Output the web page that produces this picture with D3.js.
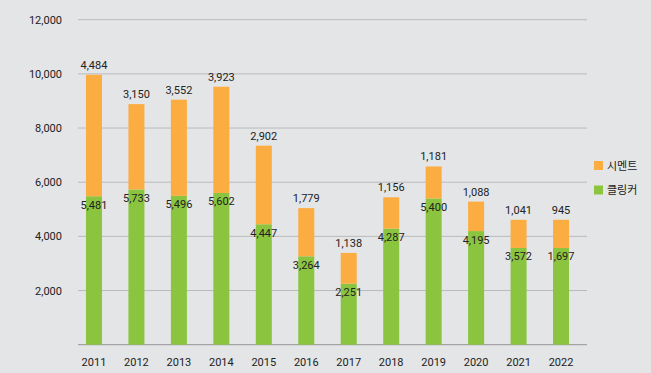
<!DOCTYPE html>
<html>
<head>
<meta charset="utf-8">
<script src="https://cdn.jsdelivr.net/npm/d3@7"></script>
<style>
  body { margin: 0; background: #e4e5e7; }
  svg { display: block; font-family: Roboto, "Noto Sans CJK KR", sans-serif; }
</style>
</head>
<body>
<div id="main"></div>
<script>
// years on the x axis
const years = ["2011","2012","2013","2014","2015","2016","2017","2018","2019","2020","2021","2022"];
// bar heights as drawn (2022 bar is drawn at the same height as 2021 in the source)
const clinker = [5481, 5733, 5496, 5602, 4447, 3264, 2251, 4287, 5400, 4195, 3572, 3572];
const cement  = [4484, 3150, 3552, 3923, 2902, 1779, 1138, 1156, 1181, 1088, 1041, 1041];
// printed value labels
const clinkerLabels = [5481, 5733, 5496, 5602, 4447, 3264, 2251, 4287, 5400, 4195, 3572, 1697];
const cementLabels  = [4484, 3150, 3552, 3923, 2902, 1779, 1138, 1156, 1181, 1088, 1041, 945];
const yTicks = [2000, 4000, 6000, 8000, 10000, 12000];
const seriesNames = ["시멘트", "클링커"];

const ctx = {
  width: 651,
  height: 373,
  orange: "#fbad42",
  green: "#8bc53f",
  text: "#222"
};

const svg = d3.select("#main").append("svg")
  .attr("width", ctx.width)
  .attr("height", ctx.height);

// subtle paper-like background
svg.append("rect").attr("width", ctx.width).attr("height", ctx.height).attr("fill", "#e4e5e7");

const x = d3.scaleBand().domain(years).range([72.8, 582.2]).paddingInner(0.623).paddingOuter(0.31);
const y = d3.scaleLinear().domain([0, 12000]).range([344.7, 19.7]);
const fmt = d3.format(",");

// gridlines
svg.append("g").selectAll("line").data(yTicks).join("line")
  .attr("x1", 78).attr("x2", 587)
  .attr("y1", d => y(d)).attr("y2", d => y(d))
  .attr("stroke", "#b9babc").attr("stroke-width", 1);

// baseline
svg.append("line")
  .attr("x1", 78).attr("x2", 587)
  .attr("y1", y(0)).attr("y2", y(0))
  .attr("stroke", "#a4a5a7").attr("stroke-width", 1.2);

// y axis labels
svg.append("g").selectAll("text").data(yTicks).join("text")
  .attr("x", 62).attr("y", d => y(d) + 4)
  .attr("text-anchor", "end")
  .attr("font-size", 11).attr("fill", ctx.text)
  .text(d => fmt(d));

// x axis labels
svg.append("g").selectAll("text").data(years).join("text")
  .attr("x", d => x(d) + x.bandwidth() / 2)
  .attr("y", 365.5)
  .attr("text-anchor", "middle")
  .attr("font-size", 11).attr("fill", ctx.text)
  .text(d => d);

const rows = years.map((yr, i) => ({
  year: yr, clinker: clinker[i], cement: cement[i],
  clinkerLabel: clinkerLabels[i], cementLabel: cementLabels[i]
}));

// clinker bars
svg.append("g").selectAll("rect").data(rows).join("rect")
  .attr("x", d => x(d.year))
  .attr("width", x.bandwidth())
  .attr("y", d => y(d.clinker))
  .attr("height", d => y(0) - y(d.clinker))
  .attr("fill", ctx.green);

// cement bars stacked on top
svg.append("g").selectAll("rect").data(rows).join("rect")
  .attr("x", d => x(d.year))
  .attr("width", x.bandwidth())
  .attr("y", d => y(d.clinker + d.cement))
  .attr("height", d => y(d.clinker) - y(d.clinker + d.cement))
  .attr("fill", ctx.orange);

// cement labels above bars
svg.append("g").selectAll("text").data(rows).join("text")
  .attr("x", d => x(d.year) + x.bandwidth() / 2)
  .attr("y", d => y(d.clinker + d.cement) - 6)
  .attr("text-anchor", "middle")
  .attr("font-size", 11).attr("fill", ctx.text)
  .text(d => fmt(d.cementLabel));

// clinker labels just inside the green bar
svg.append("g").selectAll("text").data(rows).join("text")
  .attr("x", d => x(d.year) + x.bandwidth() / 2)
  .attr("y", d => y(d.clinker) + 12.5)
  .attr("text-anchor", "middle")
  .attr("font-size", 11).attr("fill", ctx.text)
  .text(d => fmt(d.clinkerLabel));

// legend
const legend = svg.append("g").selectAll("g").data(seriesNames).join("g")
  .attr("transform", (d, i) => `translate(594,${161 + i * 24.5})`);
legend.append("rect")
  .attr("width", 9).attr("height", 9)
  .attr("fill", (d, i) => i === 0 ? ctx.orange : ctx.green);
legend.append("text")
  .attr("x", 13).attr("y", 8.5)
  .attr("font-size", 11).attr("fill", ctx.text)
  .text(d => d);
</script>
</body>
</html>
